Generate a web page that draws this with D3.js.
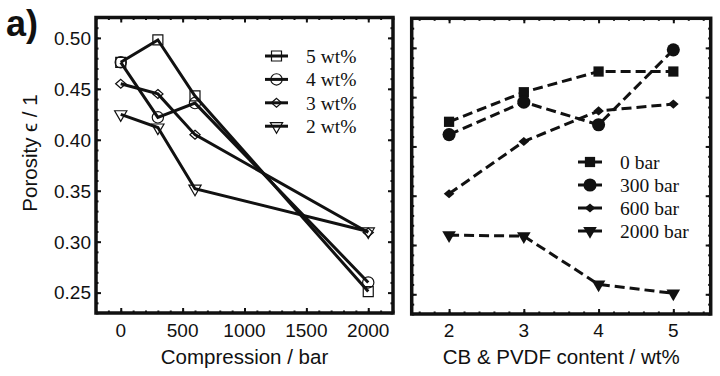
<!DOCTYPE html>
<html>
<head>
<meta charset="utf-8">
<script src="https://cdn.jsdelivr.net/npm/d3@7"></script>
<style>
  body { margin: 0; background: #fff; }
  svg { display: block; }
  .tick-label { font-family: "Liberation Sans", Arial, sans-serif; font-size: 19px; fill: #111; }
  .axis-title { font-family: "Liberation Sans", Arial, sans-serif; font-size: 20.5px; fill: #111; }
  .legend-text { font-family: "Liberation Serif", "Times New Roman", serif; font-size: 19.5px; fill: #111; }
</style>
</head>
<body>
<div id="chart"></div>
<script>
// data: porosity for each CB & PVDF content (rows) at each compression (columns)
const compression = [0, 300, 600, 2000];
const content = [2, 3, 4, 5];
const wt5 = [0.476, 0.498, 0.443, 0.251];
const wt4 = [0.476, 0.422, 0.436, 0.260];
const wt3 = [0.455, 0.445, 0.405, 0.309];
const wt2 = [0.425, 0.412, 0.352, 0.310];
const leftLabels = ["5 wt%", "4 wt%", "3 wt%", "2 wt%"];
const rightLabels = ["0 bar", "300 bar", "600 bar", "2000 bar"];
const yTicks = [0.25, 0.30, 0.35, 0.40, 0.45, 0.50];
const xTicksLeft = [0, 500, 1000, 1500, 2000];
const xTicksRight = [2, 3, 4, 5];

const W = 720, H = 376;
const svg = d3.select("#chart").append("svg").attr("width", W).attr("height", H);

// symbols: square, circle, diamond, down triangle
const symbols = [d3.symbolSquare, d3.symbolCircle, d3.symbolDiamond2, d3.symbolTriangle];
const symSizeOpen = [100, 100, 55, 65];
const symSizeFilled = [105, 135, 60, 80];
function symbolPath(i, filled) {
    return d3.symbol().type(symbols[i]).size(filled ? symSizeFilled[i] : symSizeOpen[i])();
}
function symbolTransform(i, px, py) {
    // triangle points down, diamond a bit flattened
    if (i === 3) return `translate(${px},${py}) rotate(180)`;
    if (i === 2) return `translate(${px},${py}) scale(1.1,0.95)`;
    return `translate(${px},${py})`;
}

function drawFrame(g, x, y, xMajor, xMinor, yMajor, yMinor) {
    let [x0, x1] = x.range();
    let [y0, y1] = y.range();

    // inside ticks, all four sides
    let axes = [
        [d3.axisBottom(x), `translate(0,${y0})`, -5, xMajor],
        [d3.axisBottom(x), `translate(0,${y0})`, -2.5, xMinor],
        [d3.axisTop(x), `translate(0,${y1})`, -5, xMajor],
        [d3.axisTop(x), `translate(0,${y1})`, -2.5, xMinor],
        [d3.axisLeft(y), `translate(${x0},0)`, -5, yMajor],
        [d3.axisLeft(y), `translate(${x0},0)`, -2.5, yMinor],
        [d3.axisRight(y), `translate(${x1},0)`, -5, yMajor],
        [d3.axisRight(y), `translate(${x1},0)`, -2.5, yMinor]
    ];
    axes.forEach(a => {
        let ax = g.append("g")
            .attr("transform", a[1])
            .call(a[0].tickValues(a[3]).tickSizeInner(a[2]).tickSizeOuter(0).tickFormat(""));
        ax.select(".domain").remove();
        ax.selectAll("line").attr("stroke", "#111").attr("stroke-width", 2);
    });

    g.append("rect")
        .attr("x", x0).attr("y", y1)
        .attr("width", x1 - x0).attr("height", y0 - y1)
        .attr("fill", "none")
        .attr("stroke", "#111")
        .attr("stroke-width", 3.5);
}

function minorTicks(lo, hi, step) {
    let out = [];
    for (let v = lo; v <= hi + 1e-9; v += step) out.push(+v.toFixed(4));
    return out;
}

// ---------- left panel ----------
let xL = d3.scaleLinear().domain([-200, 2200]).range([96, 393]);
let yL = d3.scaleLinear().domain([0.23, 0.52]).range([313, 17.5]);
let gL = svg.append("g");

drawFrame(gL, xL, yL, xTicksLeft, minorTicks(-200, 2200, 100), yTicks, minorTicks(0.23, 0.52, 0.01));

let leftSeries = [wt5, wt4, wt3, wt2];
let line = (xs, ys) => d3.line().x((d, i) => xs(d[0])).y(d => ys(d[1]));

leftSeries.forEach((vals, s) => {
    let pts = compression.map((c, i) => [c, vals[i]]);
    gL.append("path")
        .datum(pts)
        .attr("d", line(xL, yL))
        .attr("fill", "none")
        .attr("stroke", "#111")
        .attr("stroke-width", 3);
    gL.selectAll(null).data(pts).enter().append("path")
        .attr("d", symbolPath(s, false))
        .attr("transform", d => symbolTransform(s, xL(d[0]), yL(d[1])))
        .attr("fill", "none")
        .attr("stroke", "#111")
        .attr("stroke-width", 1.2);
});

// tick labels
gL.selectAll(".ylab").data(yTicks).enter().append("text")
    .attr("class", "tick-label")
    .attr("x", 91)
    .attr("y", d => yL(d))
    .attr("dy", "0.36em")
    .attr("text-anchor", "end")
    .text(d => d.toFixed(2));
gL.selectAll(".xlab").data(xTicksLeft).enter().append("text")
    .attr("class", "tick-label")
    .attr("x", d => xL(d))
    .attr("y", 337)
    .attr("text-anchor", "middle")
    .text(d => d);
gL.append("text")
    .attr("class", "axis-title")
    .attr("x", (96 + 393) / 2)
    .attr("y", 364)
    .attr("text-anchor", "middle")
    .text("Compression / bar");
gL.append("text")
    .attr("class", "axis-title")
    .attr("transform", "translate(37,153) rotate(-90)")
    .attr("text-anchor", "middle")
    .text("Porosity \u03f5 / 1");

// legend left
let legL = gL.append("g").attr("transform", "translate(265,56)");
leftLabels.forEach((lab, i) => {
    let yy = i * 23.4;
    legL.append("line").attr("x1", 0).attr("x2", 23).attr("y1", yy).attr("y2", yy)
        .attr("stroke", "#111").attr("stroke-width", 3);
    legL.append("path").attr("d", symbolPath(i, false))
        .attr("transform", symbolTransform(i, 11.5, yy))
        .attr("fill", "none").attr("stroke", "#111").attr("stroke-width", 1.2);
    legL.append("text").attr("class", "legend-text")
        .attr("x", 41).attr("y", yy).attr("dy", "0.35em").text(lab);
});

// ---------- right panel ----------
let xR = d3.scaleLinear().domain([1.5, 5.5]).range([411.7, 710.7]);
let yR = d3.scaleLinear().domain([0.23, 0.53]).range([314, 18.3]);
let gR = svg.append("g");

drawFrame(gR, xR, yR, xTicksRight, minorTicks(1.6, 5.4, 0.2), yTicks, minorTicks(0.23, 0.53, 0.01));

let rightSeries = compression.map((c, i) => [wt2[i], wt3[i], wt4[i], wt5[i]]);
rightSeries.forEach((vals, s) => {
    let pts = content.map((c, i) => [c, vals[i]]);
    gR.append("path")
        .datum(pts)
        .attr("d", line(xR, yR))
        .attr("fill", "none")
        .attr("stroke", "#111")
        .attr("stroke-width", 3)
        .attr("stroke-dasharray", "10,5");
    gR.selectAll(null).data(pts).enter().append("path")
        .attr("d", symbolPath(s, true))
        .attr("transform", d => symbolTransform(s, xR(d[0]), yR(d[1])))
        .attr("fill", "#111");
});

gR.selectAll(".xlab").data(xTicksRight).enter().append("text")
    .attr("class", "tick-label")
    .attr("x", d => xR(d))
    .attr("y", 337)
    .attr("text-anchor", "middle")
    .text(d => d);
gR.append("text")
    .attr("class", "axis-title")
    .attr("x", (411.7 + 710.7) / 2)
    .attr("y", 364)
    .attr("text-anchor", "middle")
    .text("CB & PVDF content / wt%");

// legend right
let legR = gR.append("g").attr("transform", "translate(578,162)");
rightLabels.forEach((lab, i) => {
    let yy = i * 23;
    legR.append("line").attr("x1", 0).attr("x2", 24).attr("y1", yy).attr("y2", yy)
        .attr("stroke", "#111").attr("stroke-width", 3);
    legR.append("path").attr("d", symbolPath(i, true))
        .attr("transform", symbolTransform(i, 12, yy))
        .attr("fill", "#111");
    legR.append("text").attr("class", "legend-text")
        .attr("x", 42).attr("y", yy).attr("dy", "0.35em").text(lab);
});

// panel label
svg.append("text")
    .attr("x", 6)
    .attr("y", 36)
    .attr("font-family", "Liberation Sans, Arial, sans-serif")
    .attr("font-weight", "bold")
    .attr("font-size", 36)
    .attr("fill", "#111")
    .text("a)");
</script>
</body>
</html>
